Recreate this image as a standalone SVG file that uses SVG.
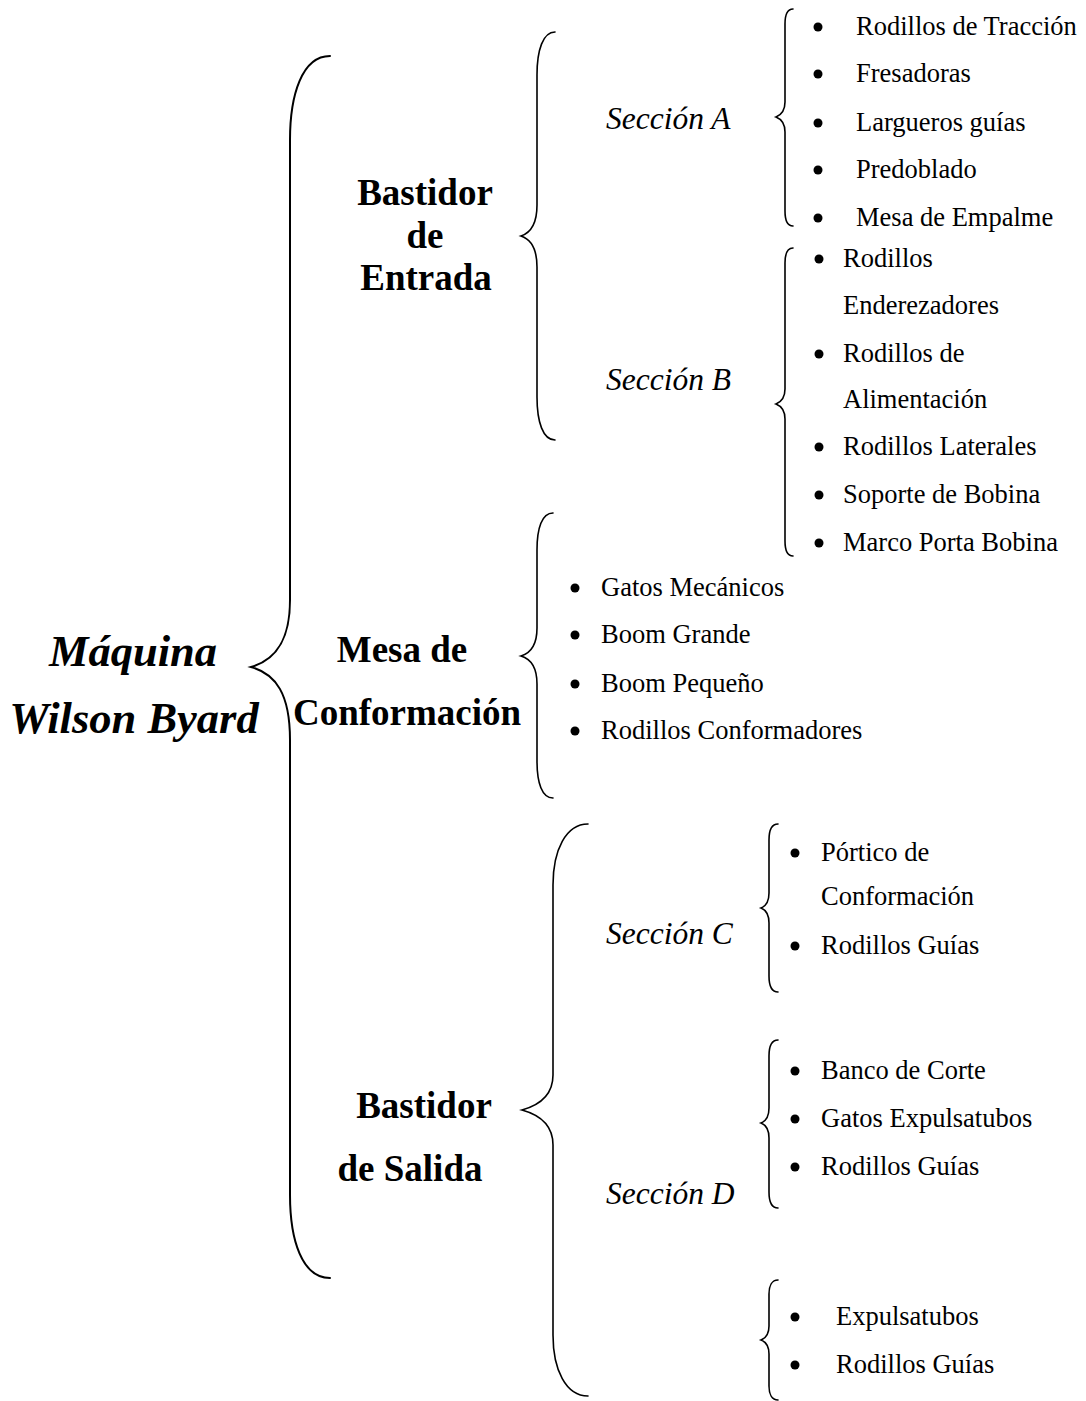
<svg xmlns="http://www.w3.org/2000/svg" width="1086" height="1401" viewBox="0 0 1086 1401">
<style>
.br{fill:none;stroke:#000;stroke-width:1.6;stroke-linecap:round}
.root{font-family:"Liberation Serif",serif;font-weight:bold;font-style:italic;font-size:44.5px}
.l1{font-family:"Liberation Serif",serif;font-weight:bold;font-size:37px}
.sec{font-family:"Liberation Serif",serif;font-style:italic;font-size:31.5px}
.it{font-family:"Liberation Serif",serif;font-size:26.5px}
.dot{fill:#000}
</style>
<rect width="1086" height="1401" fill="#fff"/>
<g id="connectors">
<path class="br" style="stroke-width:2" d="M330,56 C302,56 290,95 290,140 L290,600 C290,640 276,660 251,667 C276,674 290,694 290,740 L290,1195 C290,1240 302,1278 330,1278"/>
<path class="br" d="M555,32 C543,32 537,50 537,75 L537,205 C537,225 530,233 521,236 C530,239 537,247 537,267 L537,397 C537,422 543,440 555,440"/>
<path class="br" d="M793,9 C788,9 785,14 785,24 L785,102 C785,110 781,115 776,117 C781,119 785,124 785,132 L785,211 C785,221 788,226 793,226"/>
<path class="br" d="M793,248 C788,248 785,253 785,263 L785,389 C785,397 781,402 776,404 C781,406 785,411 785,419 L785,541 C785,551 788,556 793,556"/>
<path class="br" d="M553,513 C542,513 537,528 537,550 L537,628 C537,645 531,653 521,656 C531,659 537,667 537,684 L537,761 C537,783 542,798 553,798"/>
<path class="br" d="M588,824 C566,824 553,850 553,885 L553,1075 C553,1095 540,1105 522,1110 C540,1115 553,1125 553,1145 L553,1335 C553,1370 566,1396 588,1396"/>
<path class="br" d="M778,824 C772,824 769,830 769,840 L769,893 C769,901 766,906 761,908 C766,910 769,915 769,923 L769,976 C769,986 772,992 778,992"/>
<path class="br" d="M778,1040 C772,1040 769,1046 769,1056 L769,1108 C769,1116 766,1121 761,1123 C766,1125 769,1130 769,1138 L769,1192 C769,1202 772,1208 778,1208"/>
<path class="br" d="M778,1280 C772,1280 769,1286 769,1294 L769,1326 C769,1334 766,1338 761,1340 C766,1342 769,1346 769,1354 L769,1386 C769,1394 772,1400 778,1400"/>
</g>
<g id="root">
<text class="root" x="133" y="666" text-anchor="middle">Máquina</text>
<text class="root" x="134" y="733" text-anchor="middle">Wilson Byard</text>
</g>
<g id="bastidor-entrada">
<text class="l1" x="425" y="205" text-anchor="middle">Bastidor</text>
<text class="l1" x="425" y="248" text-anchor="middle">de</text>
<text class="l1" x="426" y="290" text-anchor="middle">Entrada</text>
</g>
<g id="mesa-conformacion">
<text class="l1" x="402" y="662" text-anchor="middle">Mesa de</text>
<text class="l1" x="407" y="725" text-anchor="middle">Conformación</text>
</g>
<g id="bastidor-salida">
<text class="l1" x="424" y="1118" text-anchor="middle">Bastidor</text>
<text class="l1" x="410" y="1181" text-anchor="middle">de Salida</text>
</g>
<g id="seccion-a">
<text class="sec" x="606" y="129">Sección A</text>
</g>
<g id="seccion-b">
<text class="sec" x="606" y="390">Sección B</text>
</g>
<g id="seccion-c">
<text class="sec" x="606" y="944">Sección C</text>
</g>
<g id="seccion-d">
<text class="sec" x="606" y="1204">Sección D</text>
</g>
<g id="items-a">
<circle class="dot" cx="818" cy="27" r="4.5"/><text class="it" x="856" y="35">Rodillos de Tracción</text>
<circle class="dot" cx="818" cy="74" r="4.5"/><text class="it" x="856" y="82">Fresadoras</text>
<circle class="dot" cx="818" cy="123" r="4.5"/><text class="it" x="856" y="131">Largueros guías</text>
<circle class="dot" cx="818" cy="170" r="4.5"/><text class="it" x="856" y="178">Predoblado</text>
<circle class="dot" cx="818" cy="218" r="4.5"/><text class="it" x="856" y="226">Mesa de Empalme</text>
</g>
<g id="items-b">
<circle class="dot" cx="819" cy="259" r="4.5"/><text class="it" x="843" y="267">Rodillos</text>
<text class="it" x="843" y="314">Enderezadores</text>
<circle class="dot" cx="819" cy="354" r="4.5"/><text class="it" x="843" y="362">Rodillos de</text>
<text class="it" x="843" y="408">Alimentación</text>
<circle class="dot" cx="819" cy="447" r="4.5"/><text class="it" x="843" y="455">Rodillos Laterales</text>
<circle class="dot" cx="819" cy="495" r="4.5"/><text class="it" x="843" y="503">Soporte de Bobina</text>
<circle class="dot" cx="819" cy="543" r="4.5"/><text class="it" x="843" y="551">Marco Porta Bobina</text>
</g>
<g id="items-mesa">
<circle class="dot" cx="575" cy="588" r="4.5"/><text class="it" x="601" y="596">Gatos Mecánicos</text>
<circle class="dot" cx="575" cy="635" r="4.5"/><text class="it" x="601" y="643">Boom Grande</text>
<circle class="dot" cx="575" cy="684" r="4.5"/><text class="it" x="601" y="692">Boom Pequeño</text>
<circle class="dot" cx="575" cy="731" r="4.5"/><text class="it" x="601" y="739">Rodillos Conformadores</text>
</g>
<g id="items-c">
<circle class="dot" cx="795" cy="853" r="4.5"/><text class="it" x="821" y="861">Pórtico de</text>
<text class="it" x="821" y="905">Conformación</text>
<circle class="dot" cx="795" cy="946" r="4.5"/><text class="it" x="821" y="954">Rodillos Guías</text>
</g>
<g id="items-d">
<circle class="dot" cx="795" cy="1071" r="4.5"/><text class="it" x="821" y="1079">Banco de Corte</text>
<circle class="dot" cx="795" cy="1119" r="4.5"/><text class="it" x="821" y="1127">Gatos Expulsatubos</text>
<circle class="dot" cx="795" cy="1167" r="4.5"/><text class="it" x="821" y="1175">Rodillos Guías</text>
</g>
<g id="items-e">
<circle class="dot" cx="795" cy="1317" r="4.5"/><text class="it" x="836" y="1325">Expulsatubos</text>
<circle class="dot" cx="795" cy="1365" r="4.5"/><text class="it" x="836" y="1373">Rodillos Guías</text>
</g>
</svg>
